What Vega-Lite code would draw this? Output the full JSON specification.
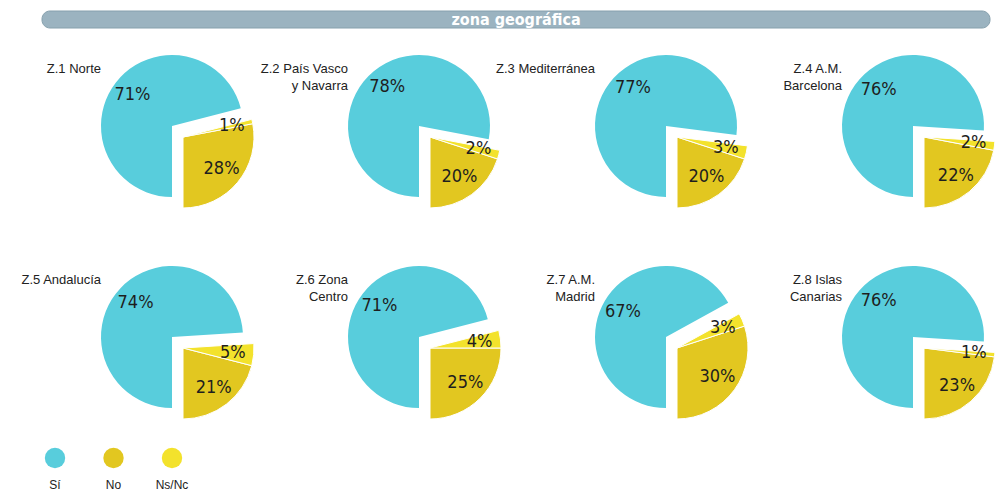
{
  "$schema": "https://vega.github.io/schema/vega-lite/v6.json",
  "padding": {"left": 20, "top": 10, "right": 0, "bottom": 0},
  "background": "white",
  "config": {"view": {"stroke": null}, "font": "Liberation Sans", "concat": {"spacing": 26}},
  "vconcat": [
    {
      "width": 889,
      "height": 17,
      "data": {"values": [{"title": "zona geográfica"}]},
      "layer": [
        {
          "mark": {"type": "rect", "color": "#9BB3C0", "cornerRadius": 8, "stroke": "#86a0ad", "strokeWidth": 1},
          "encoding": {
            "x": {"datum": 0, "type": "quantitative", "scale": {"domain": [0, 948], "range": [-59, 889], "nice": false, "zero": false}, "axis": null},
            "x2": {"datum": 948},
            "y": {"datum": 0, "type": "quantitative", "scale": {"domain": [0, 1]}, "axis": null},
            "y2": {"datum": 1}
          }
        },
        {
          "mark": {"type": "text", "color": "white", "fontWeight": "bold", "fontSize": 16, "font": "Liberation Sans Narrow, DejaVu Sans Condensed, sans-serif"},
          "encoding": {
            "x": {"datum": 474, "type": "quantitative"},
            "text": {"field": "title"}
          }
        }
      ]
    },
    {
      "data": {"values": [
        {"zona": "Z.1 Norte", "answer": "Sí", "value": 71},
        {"zona": "Z.1 Norte", "answer": "No", "value": 28},
        {"zona": "Z.1 Norte", "answer": "Ns/Nc", "value": 1},
        {"zona": "Z.2 País Vasco|y Navarra", "answer": "Sí", "value": 78},
        {"zona": "Z.2 País Vasco|y Navarra", "answer": "No", "value": 20},
        {"zona": "Z.2 País Vasco|y Navarra", "answer": "Ns/Nc", "value": 2},
        {"zona": "Z.3 Mediterránea", "answer": "Sí", "value": 77},
        {"zona": "Z.3 Mediterránea", "answer": "No", "value": 20},
        {"zona": "Z.3 Mediterránea", "answer": "Ns/Nc", "value": 3},
        {"zona": "Z.4 A.M.|Barcelona", "answer": "Sí", "value": 76},
        {"zona": "Z.4 A.M.|Barcelona", "answer": "No", "value": 22},
        {"zona": "Z.4 A.M.|Barcelona", "answer": "Ns/Nc", "value": 2},
        {"zona": "Z.5 Andalucía", "answer": "Sí", "value": 74},
        {"zona": "Z.5 Andalucía", "answer": "No", "value": 21},
        {"zona": "Z.5 Andalucía", "answer": "Ns/Nc", "value": 5},
        {"zona": "Z.6  Zona|Centro", "answer": "Sí", "value": 71},
        {"zona": "Z.6  Zona|Centro", "answer": "No", "value": 25},
        {"zona": "Z.6  Zona|Centro", "answer": "Ns/Nc", "value": 4},
        {"zona": "Z.7 A.M.|Madrid", "answer": "Sí", "value": 67},
        {"zona": "Z.7 A.M.|Madrid", "answer": "No", "value": 30},
        {"zona": "Z.7 A.M.|Madrid", "answer": "Ns/Nc", "value": 3},
        {"zona": "Z.8 Islas|Canarias", "answer": "Sí", "value": 76},
        {"zona": "Z.8 Islas|Canarias", "answer": "No", "value": 23},
        {"zona": "Z.8 Islas|Canarias", "answer": "Ns/Nc", "value": 1}
      ]},
      "transform": [{"calculate": "datum.value + '%'", "as": "pct"}],
      "facet": {
        "field": "zona",
        "type": "nominal",
        "header": {
          "title": null,
          "labelOrient": "top",
          "labelAnchor": "start",
          "labelAlign": "right",
          "labelBaseline": "top",
          "labelAngle": 0,
          "labelPadding": -38,
          "labelFont": "Liberation Sans",
          "labelFontSize": 13,
          "labelLineHeight": 17,
          "labelColor": "#222222",
          "labelExpr": "indexof(datum.value, '|') < 0 ? [datum.value, ''] : split(datum.value, '|')"
        }
      },
      "columns": 4,
      "bounds": "flush",
      "spacing": {"column": 105, "row": 69},
      "spec": {
        "width": 142,
        "height": 142,
        "encoding": {
          "theta": {"field": "value", "type": "quantitative", "stack": true, "scale": {"domain": [0, 100], "range": [3.14159265, 9.42477796]}},
          "order": {"field": "answer", "sort": "descending"},
          "color": {"field": "answer", "type": "nominal", "scale": {"domain": ["Sí", "No", "Ns/Nc"], "range": ["#58CDDC", "#E2C720", "#F3E22C"]}, "legend": null}
        },
        "layer": [
          {
            "mark": {"type": "arc", "radius": 71},
            "encoding": {"opacity": {"condition": {"test": "datum.answer === 'Sí'", "value": 1}, "value": 0}}
          },
          {
            "mark": {"type": "arc", "radius": 71, "xOffset": 11, "yOffset": 11, "stroke": "white", "strokeWidth": 1},
            "encoding": {"opacity": {"condition": {"test": "datum.answer === 'Sí'", "value": 0}, "value": 1}}
          },
          {
            "mark": {"type": "text", "radius": 50, "fontSize": 18, "font": "Liberation Sans Narrow, DejaVu Sans Condensed, sans-serif", "color": "#1e1e1e"},
            "encoding": {
              "text": {"field": "pct"},
              "color": {"value": "#1e1e1e"},
              "opacity": {"condition": {"test": "datum.answer === 'Sí'", "value": 1}, "value": 0}
            }
          },
          {
            "mark": {"type": "text", "radius": 50, "xOffset": 11, "yOffset": 11, "fontSize": 18, "font": "Liberation Sans Narrow, DejaVu Sans Condensed, sans-serif", "color": "#1e1e1e"},
            "encoding": {
              "text": {"field": "pct"},
              "color": {"value": "#1e1e1e"},
              "opacity": {"condition": {"test": "datum.answer === 'Sí'", "value": 0}, "value": 1}
            }
          }
        ]
      }
    },
    {
      "width": 115,
      "height": 16,
      "data": {"values": [{"answer": "Sí"}, {"answer": "No"}, {"answer": "Ns/Nc"}]},
      "encoding": {
        "x": {"field": "answer", "type": "nominal", "sort": ["Sí", "No", "Ns/Nc"], "scale": {"type": "point", "padding": 0, "range": [-46, 71]}, "axis": null}
      },
      "layer": [
        {
          "mark": {"type": "circle", "size": 415, "opacity": 1},
          "encoding": {"color": {"field": "answer", "type": "nominal", "scale": {"domain": ["Sí", "No", "Ns/Nc"], "range": ["#58CDDC", "#E2C720", "#F3E22C"]}, "legend": null}}
        },
        {
          "mark": {"type": "text", "dy": 27, "fontSize": 12, "color": "#222222"},
          "encoding": {"text": {"field": "answer"}}
        }
      ]
    }
  ]
}
